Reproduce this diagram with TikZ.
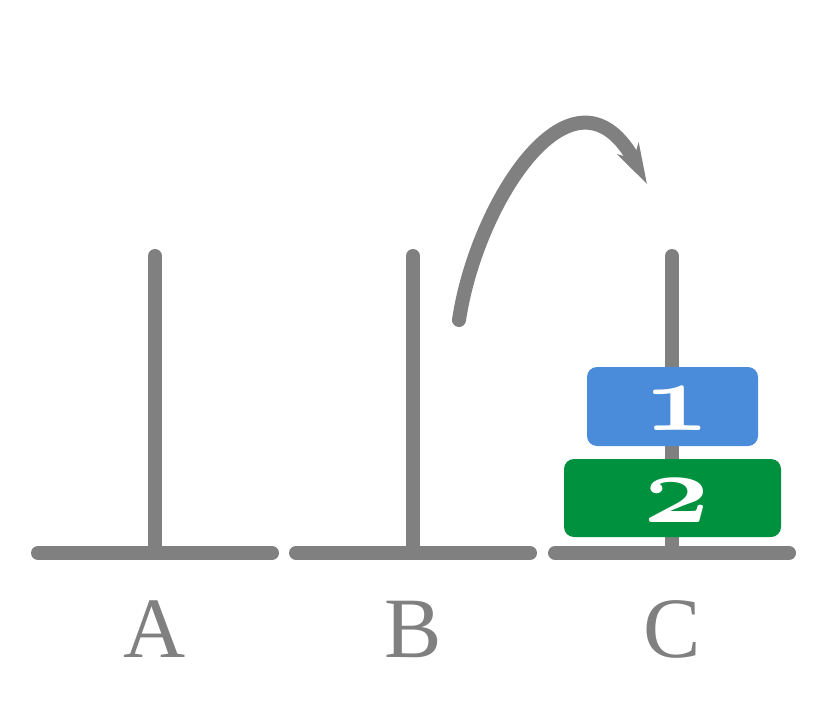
\documentclass[tikz,border=0pt]{standalone}
\usepackage{fontspec}
\setmainfont{Liberation Serif}
\usepackage{xcolor}
\usetikzlibrary{arrows.meta, positioning}

\definecolor{rodgray}{HTML}{808080}
\definecolor{diskblue}{HTML}{4A8BDA}
\definecolor{diskgreen}{HTML}{00913F}

% old-style digit, blown up
\newcommand\disklabel[1]{\scalebox{11.6}[9.7]{\fontsize{10}{10}\usefont{OML}{cmm}{b}{it}#1}}

\begin{document}
\begin{tikzpicture}[x=1pt, y=-1pt,
      rod/.style={line width=14pt, draw=rodgray, line cap=round},
      disk/.style={rectangle, rounded corners=10pt, inner sep=0pt},
      disknum/.style={anchor=base, text=white, inner sep=0pt},
      pegname/.style={anchor=base, text=rodgray, inner sep=0pt,
        font=\fontsize{86}{86}\selectfont},
      move/.style={-{Stealth[length=40pt, width=24pt, inset=12pt]}, line width=14pt,
        draw=rodgray, line cap=round}
    ]
      \useasboundingbox (0,0) rectangle (834,711);
      % pegs
      \foreach \name/\x in {A/155, B/413, C/672} {
        \coordinate (top\name) at (\x,256);
        \coordinate (foot\name) at (\x,553);
        \draw[rod] (top\name) -- (foot\name);
        \draw[rod] ([xshift=-117pt]foot\name) -- ([xshift=117pt]foot\name);
        \node[pegname] (name\name) at (\x,657) {\name};
      }
      % disks on C
      \node[disk, fill=diskblue, minimum width=171pt, minimum height=79pt] (disk1) at (672.5,406.5) {};
      \node[disk, fill=diskgreen, minimum width=217pt, minimum height=78pt] (disk2) at (672.5,498) {};
      \node[disknum] (num1) at (677,430) {\disklabel{1}};
      \node[disknum] (num2) at (677,522) {\disklabel{2}};
      % move arrow
      \coordinate (from) at (459,320);
      \coordinate (to) at (647,184);
      \draw[move] (from) .. controls (477,200) and (575,50) .. (to);
    \end{tikzpicture}
\end{document}
